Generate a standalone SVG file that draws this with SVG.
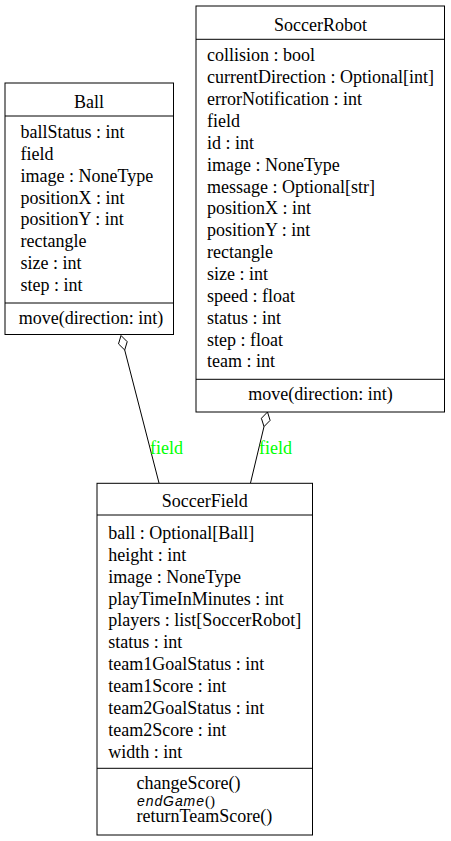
<svg xmlns="http://www.w3.org/2000/svg" width="451" height="841" viewBox="0 0 451 841">
<style>
.box{fill:#ffffff;stroke:#000000;stroke-width:1}
.sep{stroke:#000000;stroke-width:1}
.t{font-family:"Liberation Serif","Times New Roman",serif;font-size:18px;fill:#000000}
.c{text-anchor:middle}
.it{font-family:"Liberation Sans",Arial,sans-serif;font-style:italic;font-size:14px;fill:#000000}
.sm{font-family:"Liberation Serif","Times New Roman",serif;font-size:15px;fill:#000000}
.edge{stroke:#000000;stroke-width:1;fill:none}
.dia{fill:#ffffff;stroke:#000000;stroke-width:1}
.lbl{font-family:"Liberation Serif","Times New Roman",serif;font-size:18px;fill:#00ff00}
</style>
<rect width="451" height="841" fill="#ffffff"/>
<g id="connectors">
<line class="edge" x1="124.7" y1="350" x2="159" y2="483"/>
<polygon class="dia" points="121,335.5 118.5,343.9 124.7,350 127.2,341.7"/>
<text class="lbl" x="150" y="453.5">field</text>
<line class="edge" x1="264" y1="426.6" x2="250.5" y2="483"/>
<polygon class="dia" points="267.5,412 261.4,418.3 264,426.6 270.1,420.4"/>
<text class="lbl" x="259" y="453.5">field</text>
</g>
<g id="Ball">
<rect class="box" x="5" y="83" width="168.5" height="251.5"/>
<line class="sep" x1="5" y1="116" x2="173.5" y2="116"/>
<line class="sep" x1="5" y1="303" x2="173.5" y2="303"/>
<text class="t c" x="89" y="108">Ball</text>
<text class="t" x="20.5" y="138">ballStatus : int</text>
<text class="t" x="20.5" y="159.9">field</text>
<text class="t" x="20.5" y="181.7">image : NoneType</text>
<text class="t" x="20.5" y="203.6">positionX : int</text>
<text class="t" x="20.5" y="225.4">positionY : int</text>
<text class="t" x="20.5" y="247.3">rectangle</text>
<text class="t" x="20.5" y="269.2">size : int</text>
<text class="t" x="20.5" y="291">step : int</text>
<text class="t c" x="91" y="324">move(direction: int)</text>
</g>
<g id="SoccerRobot">
<rect class="box" x="196" y="6" width="248.5" height="406"/>
<line class="sep" x1="196" y1="39.3" x2="444.5" y2="39.3"/>
<line class="sep" x1="196" y1="379.3" x2="444.5" y2="379.3"/>
<text class="t c" x="320.5" y="30.7">SoccerRobot</text>
<text class="t" x="207" y="61.3">collision : bool</text>
<text class="t" x="207" y="83.2">currentDirection : Optional[int]</text>
<text class="t" x="207" y="105">errorNotification : int</text>
<text class="t" x="207" y="126.9">field</text>
<text class="t" x="207" y="148.7">id : int</text>
<text class="t" x="207" y="170.6">image : NoneType</text>
<text class="t" x="207" y="192.5">message : Optional[str]</text>
<text class="t" x="207" y="214.3">positionX : int</text>
<text class="t" x="207" y="236.2">positionY : int</text>
<text class="t" x="207" y="258">rectangle</text>
<text class="t" x="207" y="279.9">size : int</text>
<text class="t" x="207" y="301.8">speed : float</text>
<text class="t" x="207" y="323.6">status : int</text>
<text class="t" x="207" y="345.5">step : float</text>
<text class="t" x="207" y="367.3">team : int</text>
<text class="t c" x="320.5" y="400.3">move(direction: int)</text>
</g>
<g id="SoccerField">
<rect class="box" x="97" y="483.3" width="215.5" height="351.7"/>
<line class="sep" x1="97" y1="515" x2="312.5" y2="515"/>
<line class="sep" x1="97" y1="768.3" x2="312.5" y2="768.3"/>
<text class="t c" x="204.8" y="506.8">SoccerField</text>
<text class="t" x="108.3" y="539">ball : Optional[Ball]</text>
<text class="t" x="108.3" y="560.9">height : int</text>
<text class="t" x="108.3" y="582.7">image : NoneType</text>
<text class="t" x="108.3" y="604.6">playTimeInMinutes : int</text>
<text class="t" x="108.3" y="626.4">players : list[SoccerRobot]</text>
<text class="t" x="108.3" y="648.3">status : int</text>
<text class="t" x="108.3" y="670.2">team1GoalStatus : int</text>
<text class="t" x="108.3" y="692">team1Score : int</text>
<text class="t" x="108.3" y="713.9">team2GoalStatus : int</text>
<text class="t" x="108.3" y="735.7">team2Score : int</text>
<text class="t" x="108.3" y="757.6">width : int</text>
<text class="t" x="136.5" y="789">changeScore()</text>
<text class="it" x="137" y="806" textLength="67" lengthAdjust="spacing">endGame</text>
<text class="sm" x="205" y="806">()</text>
<text class="t" x="136.5" y="822">returnTeamScore()</text>
</g>
</svg>
